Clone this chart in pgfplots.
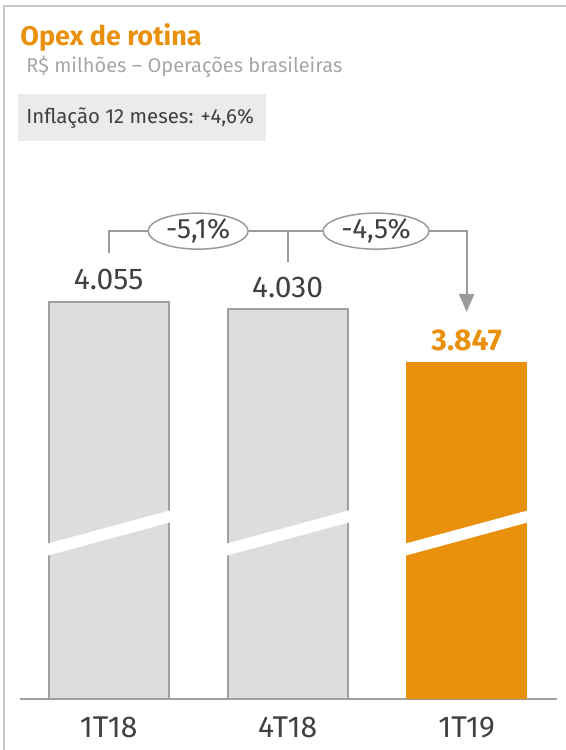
\documentclass[border=0pt]{standalone}
\usepackage{fontspec}
\setmainfont{Fira Sans}
\usepackage{pgfplots}
\pgfplotsset{compat=1.18}
\usetikzlibrary{arrows.meta,shapes.geometric}
\definecolor{orangeC}{RGB}{233,144,12}
\definecolor{barGray}{RGB}{221,221,221}
\definecolor{barEdge}{RGB}{160,160,160}
\definecolor{txt}{RGB}{64,64,64}
\definecolor{subtxt}{RGB}{166,166,166}
\definecolor{boxGray}{RGB}{235,235,235}
\definecolor{frameGray}{RGB}{200,200,200}
\definecolor{lineGray}{RGB}{155,155,155}
\begin{document}
\begin{tikzpicture}
\useasboundingbox (0,0) rectangle (283pt,375pt);
\draw[frameGray, line width=1pt] (2pt,0) -- (2pt,372pt) -- (283pt,372pt);
\node[anchor=base west, inner sep=0pt, text=orangeC, font=\fontsize{13.5}{16}\selectfont\bfseries] at (10pt,352pt) {Opex de rotina};
\node[anchor=base west, inner sep=0pt, text=subtxt, font=\fontsize{10}{12}\selectfont] at (13pt,338.5pt) {R\$ milhões – Operações brasileiras};
\fill[boxGray] (9pt,328pt) rectangle (133pt,304.5pt);
\node[anchor=base west, inner sep=0pt, text=txt, font=\fontsize{10.2}{12}\selectfont] at (13pt,313pt) {Inflação 12 meses: +4,6\%};
\begin{axis}[
 at={(10pt,25.5pt)}, anchor=south west,
 width=268.5pt, height=274.5pt, scale only axis,
 xmin=-0.495, xmax=2.505, ymin=2700, ymax=4574,
 axis x line*=bottom, axis y line=none,
 x axis line style={barEdge, line width=1pt},
 xtick={0,1,2}, xticklabels={1T18,4T18,1T19},
 major tick length=0pt,
 xticklabel style={text=txt, font=\fontsize{15}{18}\selectfont, anchor=north, inner sep=0pt, yshift=-8.5pt},
 ybar, bar width=0.67, /pgf/bar shift=0pt,
 clip=false,
 nodes near coords, point meta=explicit symbolic,
 nodes near coords style={anchor=south, inner sep=0pt, yshift=5.5pt, font=\fontsize{15}{18}\selectfont, text=txt},
]
\addplot[fill=barGray, draw=barEdge, line width=1pt] coordinates {(0,4055) [4.055] (1,4030) [4.030]};
\addplot[fill=orangeC, draw=orangeC, line width=0.5pt, nodes near coords style={text=orangeC, font=\fontsize{15}{18}\selectfont\bfseries}] coordinates {(2,3847) [3.847]};
% axis breaks
\fill[white] (axis cs:-0.35,3229) -- (axis cs:0.35,3345) -- (axis cs:0.35,3304) -- (axis cs:-0.35,3188) -- cycle;
\fill[white] (axis cs:0.65,3229) -- (axis cs:1.35,3345) -- (axis cs:1.35,3304) -- (axis cs:0.65,3188) -- cycle;
\fill[white] (axis cs:1.65,3229) -- (axis cs:2.35,3345) -- (axis cs:2.35,3304) -- (axis cs:1.65,3188) -- cycle;
% brackets
\draw[lineGray, line width=1pt] (axis cs:0,4222) -- (axis cs:0,4297) -- (axis cs:0.5,4297);
\draw[lineGray, line width=1pt] (axis cs:0.5,4297) -- (axis cs:1.494,4297);
\draw[lineGray, line width=1pt] (axis cs:1,4191) -- (axis cs:1,4297);
\draw[lineGray, line width=1pt, -{Triangle[width=7.5pt,length=9pt]}] (axis cs:1.494,4297) -- (axis cs:2,4297) -- (axis cs:2,4021);
\node[ellipse, draw=lineGray, line width=0.75pt, fill=white, minimum width=50pt, minimum height=18pt, inner sep=0pt, text=txt, font=\fontsize{14}{16}\selectfont] at (axis cs:0.5,4297) {-5,1\%};
\node[ellipse, draw=lineGray, line width=0.75pt, fill=white, minimum width=53pt, minimum height=18pt, inner sep=0pt, text=txt, font=\fontsize{14}{16}\selectfont] at (axis cs:1.494,4297) {-4,5\%};
\end{axis}
\end{tikzpicture}
\end{document}
